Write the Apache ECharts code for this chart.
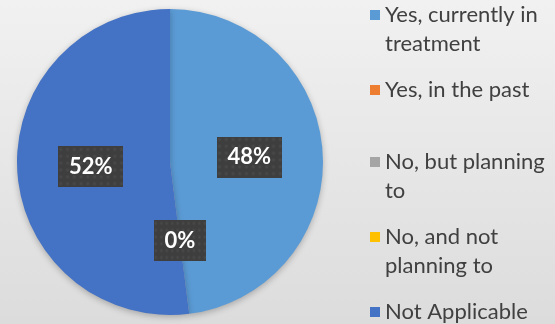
<!DOCTYPE html>
<html>
<head>
<meta charset="utf-8">
<script src="https://cdn.jsdelivr.net/npm/echarts@6/dist/echarts.min.js"></script>
<style>
  html, body { margin: 0; padding: 0; }
  #chart { width: 555px; height: 324px; }
</style>
</head>
<body>
<div id="chart"></div>
<script>
// Survey answers and their share of respondents
const categories = [
  'Yes, currently in treatment',
  'Yes, in the past',
  'No, but planning to',
  'No, and not planning to',
  'Not Applicable'
];
const values = [48, 0, 0, 0, 52];
const colors = ['#5B9BD5', '#ED7D31', '#A5A5A5', '#FFC000', '#4472C4'];
// Legend text as it wraps in the side panel
const legendLines = [
  ['Yes, currently in', 'treatment'],
  ['Yes, in the past'],
  ['No, but planning', 'to'],
  ['No, and not', 'planning to'],
  ['Not Applicable']
];

const FONT = 'Lato, "Open Sans", sans-serif';
const LINE_H = 29;
const firstLineCenters = [15, 90, 162, 237, 312];

// Dotted dark texture for the value boxes
function makeTexture(w, h) {
  const c = document.createElement('canvas');
  c.width = w; c.height = h;
  const g = c.getContext('2d');
  g.fillStyle = '#3e3e3e';
  g.fillRect(0, 0, w, h);
  for (let y = 3; y < h; y += 7) {
    for (let x = 3; x < w; x += 7) {
      const r = g.createRadialGradient(x, y, 0, x, y, 2.5);
      r.addColorStop(0, 'rgba(95,95,95,0.45)');
      r.addColorStop(1, 'rgba(95,95,95,0)');
      g.fillStyle = r;
      g.fillRect(x - 3, y - 3, 6, 6);
    }
  }
  return c;
}
const texture = makeTexture(68, 42);

// One legend block per entry; a leading blank line keeps the swatch
// level with the first line of wrapped entries
const legends = categories.map(function (name, i) {
  const lines = legendLines[i];
  const twoLine = lines.length > 1;
  return {
    data: [name],
    orient: 'vertical',
    left: 370,
    top: firstLineCenters[i] - (twoLine ? LINE_H * 1.5 : LINE_H / 2),
    padding: 0,
    icon: 'rect',
    itemWidth: 10,
    itemHeight: 10,
    itemGap: 0,
    selectedMode: false,
    formatter: function () {
      return twoLine ? ' \n' + lines.join('\n') : lines[0];
    },
    textStyle: {
      fontFamily: FONT,
      fontSize: 22,
      color: '#404040',
      lineHeight: LINE_H
    }
  };
});

const chart = echarts.init(document.getElementById('chart'), null, { renderer: 'canvas' });
chart.setOption({
  animation: false,
  backgroundColor: {
    type: 'linear', x: 0, y: 0, x2: 0, y2: 1,
    colorStops: [
      { offset: 0, color: '#f1f1f1' },
      { offset: 1, color: '#dcdcdc' }
    ]
  },
  color: colors,
  legend: legends,
  series: [{
    type: 'pie',
    center: [170, 162],
    radius: [0, 153],
    startAngle: 90,
    clockwise: true,
    avoidLabelOverlap: false,
    itemStyle: {
      borderWidth: 0,
      shadowBlur: 6,
      shadowColor: 'rgba(0,0,0,0.25)',
      shadowOffsetY: 2
    },
    labelLayout: { hideOverlap: true },
    label: {
      show: true,
      position: 'inside',
      formatter: '{d}%',
      fontFamily: FONT,
      fontWeight: 'bold',
      fontSize: 22,
      lineHeight: 25,
      color: '#ffffff',
      backgroundColor: { image: texture },
      padding: [8, 11],
      shadowBlur: 4,
      shadowOffsetX: 3,
      shadowOffsetY: 3,
      shadowColor: 'rgba(0,0,0,0.45)'
    },
    labelLine: { show: false },
    emphasis: { disabled: true },
    data: categories.map(function (name, i) {
      return { name: name, value: values[i] };
    })
  }]
});
</script>
</body>
</html>
